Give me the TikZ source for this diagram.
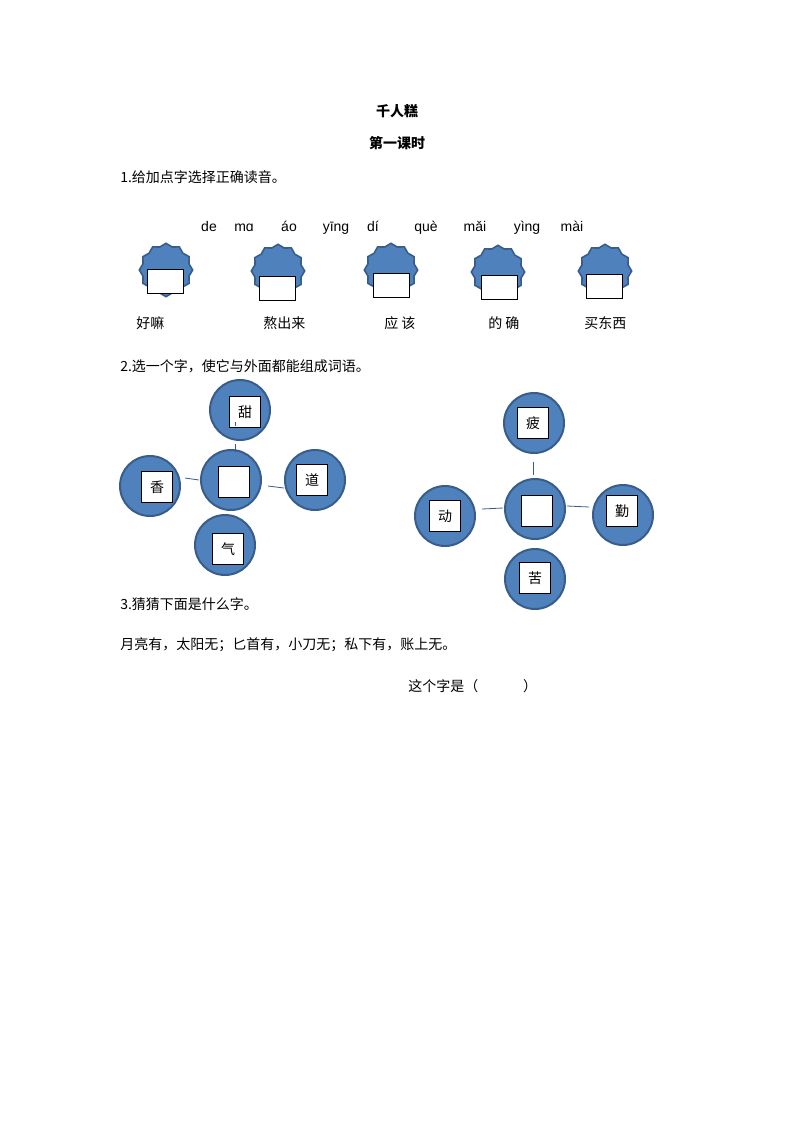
\documentclass[tikz,border=0pt]{standalone}
\usepackage{fontspec}
\setmainfont{Noto Sans CJK SC}
\newfontfamily\py{Liberation Sans}
\usetikzlibrary{shapes.geometric}
\definecolor{bf}{HTML}{4F81BD}
\definecolor{bd}{HTML}{385D8A}
\begin{document}
\begin{tikzpicture}[x=0.75pt,y=-0.75pt,font=\fontsize{10.5pt}{12pt}\selectfont,
 burst/.style={star,star points=12,star point ratio=1.12,minimum size=40pt,fill=bf,draw=bd,line width=1.2pt,inner sep=0},
 wbox/.style={draw=black,fill=white,minimum width=27pt,minimum height=18pt,inner sep=0},
 ball/.style={circle,fill=bf,draw=bd,line width=1.5pt,minimum size=45pt,inner sep=0},
 sq/.style={draw=black,fill=white,minimum size=23pt,inner sep=0},
 ln/.style={draw=bd,line width=0.6pt},
 txt/.style={anchor=west,inner sep=0}]
\useasboundingbox (0,0) rectangle (794,1123);
\node (t1) at (397,111) {\bfseries 千人糕};
\node (t2) at (397,143) {\bfseries 第一课时};
\node[txt] (q1) at (120,177) {1.给加点字选择正确读音。};
\foreach \n/\x in {de/209,mɑ/244,áo/289,yīng/336,dí/373,què/426,mǎi/475,yìng/527,mài/572}
  \node[anchor=base,inner sep=0] (p\x) at (\x,232) {\py\n};
\foreach \i/\cx/\cy/\rx/\ry in {1/166/270/165/281,2/278/271/277/288,3/391/270/391/285,4/498/272/499/287,5/605/271/604/286}{
  \node[burst] (s\i) at (\cx,\cy) {};
  \node[wbox] (b\i) at (\rx,\ry) {};
}
\node[txt] (w1) at (136,323) {好嘛};
\node[txt] (w2) at (263,323) {熬出来};
\node[txt] (w3) at (384,323) {应 该};
\node[txt] (w4) at (488,323) {的 确};
\node[txt] (w5) at (584,323) {买东西};
\node[txt] (q2) at (120,366) {2.选一个字，使它与外面都能组成词语。};
% left group
\node[ball] (lt) at (240,410) {}; \node[sq] (ltq) at (245,412) {甜};
\node[ball] (lc) at (231,480) {}; \node[sq] (lcq) at (234,482) {};
\node[ball] (ll) at (150,486) {}; \node[sq] (llq) at (157,487) {香};
\node[ball] (lr) at (315,480) {}; \node[sq] (lrq) at (312,480) {道};
\node[ball] (lb) at (225,545) {}; \node[sq] (lbq) at (228,549) {气};
\coordinate (a1) at (235,444); \coordinate (a2) at (235,452);
\draw[ln] (a1) -- (a2);
\coordinate (a3) at (185,478); \coordinate (a4) at (199,480);
\draw[ln] (a3) -- (a4);
\coordinate (a5) at (268,486); \coordinate (a6) at (284,488);
\draw[ln] (a5) -- (a6);
\coordinate (a7) at (235,422); \coordinate (a8) at (235,426);
\draw[ln] (a7) -- (a8);
% right group
\node[ball] (rt) at (534,423) {}; \node[sq] (rtq) at (533,423) {疲};
\node[ball] (rc) at (535,509) {}; \node[sq] (rcq) at (537,511) {};
\node[ball] (rl) at (445,516) {}; \node[sq] (rlq) at (445,516) {动};
\node[ball] (rr) at (623,515) {}; \node[sq] (rrq) at (622,511) {勤};
\node[ball] (rb) at (535,579) {}; \node[sq] (rbq) at (535,578) {苦};
\coordinate (c1) at (533,462); \coordinate (c2) at (533,475);
\draw[ln] (c1) -- (c2);
\coordinate (c3) at (482,509); \coordinate (c4) at (503,508);
\draw[ln] (c3) -- (c4);
\coordinate (c5) at (567,506); \coordinate (c6) at (589,507);
\draw[ln] (c5) -- (c6);
\node[txt] (q3) at (120,604) {3.猜猜下面是什么字。};
\node[txt] (r1) at (120,645) {月亮有，太阳无；匕首有，小刀无；私下有，账上无。};
\node[txt] (r2) at (408,686) {这个字是（\hspace{3.2em}）};
\end{tikzpicture}
\end{document}
